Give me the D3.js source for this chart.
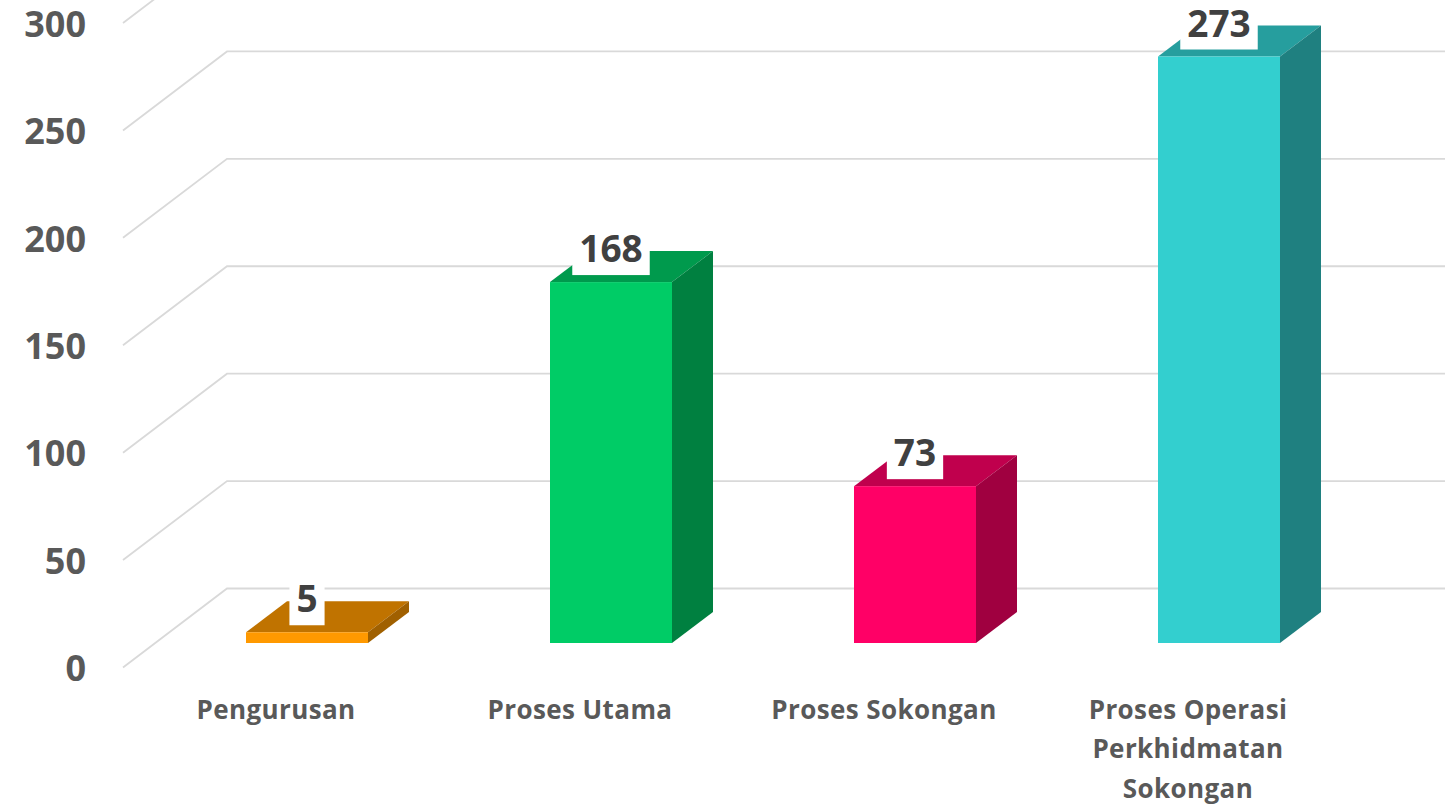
<!DOCTYPE html>
<html>
<head>
<meta charset="utf-8">
<script src="https://cdn.jsdelivr.net/npm/d3@7/dist/d3.min.js"></script>
<style>
html,body{margin:0;padding:0;background:#fff;overflow:hidden}
svg{display:block}
text{font-family:"Open Sans",sans-serif;font-weight:700}
</style>
</head>
<body>
<svg id="c" width="1450" height="804"></svg>
<script>
const categories = ["Pengurusan","Proses Utama","Proses Sokongan","Proses Operasi Perkhidmatan Sokongan"];
const values = [5,168,73,273];
const tickValues = [0,50,100,150,200,250,300];
const frontColors = ["#FF9900","#00CC66","#FF0066","#33CFCF"];
const topColors = ["#C07300","#009A4D","#C0004D","#269E9E"];
const sideColors = ["#A06000","#008040","#A00040","#1F8080"];

const svg = d3.select("#c");
const W = 1450, H = 804;
// Projection of the 3D floor: wall sits up-right of the axis plane
const wallDx = 104, wallDy = 79;
const barPlaneDy = 24.5;           // bars' front face sits this far into the floor
const barDepthX = 41, barDepthY = 31;
const axisX = 123, gridRight = 1445;

const y = d3.scaleLinear().domain([0,300]).range([667.5,23]);
const xBar = d3.scaleBand().domain(categories).range([155,1371]).paddingInner(1-122/304).paddingOuter((1-122/304)/2);
const xLabel = d3.scaleBand().domain(categories).range([124,1340]);

// Gridlines: wall line + floor diagonal
const grid = svg.append("g").attr("fill","none").attr("stroke","#D9D9D9").attr("stroke-width",1.8);
grid.selectAll("path").data(tickValues).join("path")
  .attr("d",v=>{
    const p=d3.path();
    p.moveTo(axisX,y(v));
    p.lineTo(axisX+wallDx,y(v)-wallDy);
    p.lineTo(gridRight,y(v)-wallDy);
    return p.toString();
  });

// Bars
const base = y(0)-barPlaneDy;
const h = v => y(0)-y(v);
const bars = svg.append("g").selectAll("g").data(categories).join("g");
bars.append("path").attr("fill",(d,i)=>topColors[i]).attr("d",(d,i)=>{
  const x0=xBar(d), x1=x0+xBar.bandwidth(), t=base-h(values[i]);
  return `M${x0},${t}L${x0+barDepthX},${t-barDepthY}L${x1+barDepthX},${t-barDepthY}L${x1},${t}Z`;
});
bars.append("path").attr("fill",(d,i)=>sideColors[i]).attr("d",(d,i)=>{
  const x1=xBar(d)+xBar.bandwidth(), t=base-h(values[i]);
  return `M${x1},${t}L${x1+barDepthX},${t-barDepthY}L${x1+barDepthX},${base-barDepthY}L${x1},${base}Z`;
});
bars.append("rect").attr("fill",(d,i)=>frontColors[i])
  .attr("x",d=>xBar(d)).attr("width",xBar.bandwidth())
  .attr("y",(d,i)=>base-h(values[i])).attr("height",(d,i)=>h(values[i]));

// Data labels with white backing
const lab = svg.append("g").selectAll("g").data(categories).join("g");
const lt = lab.append("text")
  .attr("text-anchor","middle").attr("font-size",37).attr("fill","#404040")
  .attr("x",d=>xBar(d)+xBar.bandwidth()/2)
  .attr("y",(d,i)=>base-h(values[i])-20)
  .text((d,i)=>values[i]);
lab.insert("rect","text").attr("fill","#fff")
  .attr("x",function(d){return xBar(d)+xBar.bandwidth()/2-this.parentNode.querySelector("text").getComputedTextLength()/2-7})
  .attr("width",function(){return this.parentNode.querySelector("text").getComputedTextLength()+14})
  .attr("y",(d,i)=>base-h(values[i])-50).attr("height",43);

// Value axis
const yAxis = svg.append("g").attr("transform","translate(86,0)")
  .call(d3.axisLeft(y).tickValues(tickValues).tickSize(0).tickPadding(0));
yAxis.select(".domain").remove();
yAxis.selectAll("text").attr("font-size",36).attr("fill","#595959").attr("dy","0.37em")
  .attr("font-family",'"Open Sans",sans-serif').attr("font-weight",700);

// Category axis
const xAxis = svg.append("g").attr("transform","translate(0,695)")
  .call(d3.axisBottom(xLabel).tickSize(0).tickPadding(0));
xAxis.select(".domain").remove();
xAxis.selectAll("text").attr("font-size",26).attr("fill","#595959")
  .attr("font-family",'"Open Sans",sans-serif').attr("font-weight",700)
  .attr("letter-spacing",0.4)
  .each(function(d){
    const t=d3.select(this), words=d.split(" ");
    t.text(null).attr("y",0).attr("dy",null);
    let lines=[],cur="";
    const probe=t.append("tspan");
    for(const w of words){
      const next=cur?cur+" "+w:w;
      probe.text(next);
      if(probe.node().getComputedTextLength()>260&&cur){lines.push(cur);cur=w;}else cur=next;
    }
    lines.push(cur);
    probe.remove();
    lines.forEach((l,i)=>t.append("tspan").attr("x",0).attr("y",23.5+i*39.5).text(l));
  });
</script>
</body>
</html>
